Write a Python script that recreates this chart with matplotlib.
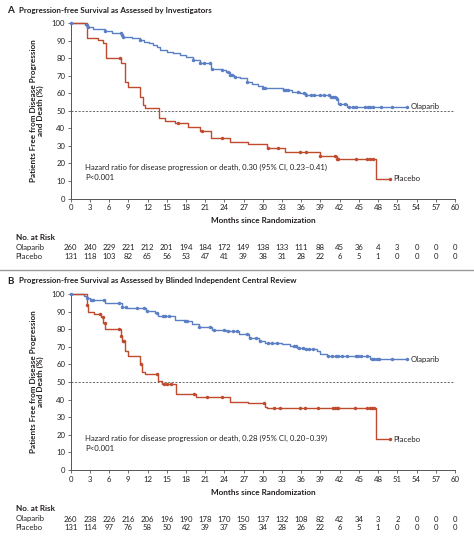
import numpy as np
import matplotlib
matplotlib.use("Agg")
import matplotlib.pyplot as plt
from matplotlib.lines import Line2D
from matplotlib.transforms import blended_transform_factory

plt.rcParams["font.family"] = ["Lato", "DejaVu Sans"]

BLUE = "#5b7fc4"
RED = "#bf4a2d"
TEXT = "#231f20"
AXIS = "#555555"

W, H = 474, 543

months = list(range(0, 61, 3))

# ── Panel A: investigator assessment ─────────────────────────────────────────
a_ola_t = [0, 2.2, 2.6, 3.5, 4.5, 5.35, 6.5, 7.95, 8.2, 9.5, 10.8, 11.5, 12.2, 12.9, 13.5,
           13.9, 15.0, 16.0, 17.0, 18.0, 19.1, 20.2, 21.98, 23.6, 24.3, 24.9, 25.5, 26.4,
           27.5, 28.3, 29.2, 30.1, 33.2, 34.5, 35.8, 36.8, 40.5, 41.5, 41.8, 43.1, 52.5]
a_ola_s = [100, 99.2, 97.8, 97.0, 96.5, 95.8, 94.5, 93.3, 92.2, 91.5, 90.5, 89.5, 88.5,
           87.6, 86.2, 84.7, 83.8, 82.8, 81.8, 80.5, 79.0, 77.4, 74.2, 73.3, 72.0, 70.4,
           69.5, 68.6, 66.7, 65.5, 64.3, 62.9, 62.0, 61.0, 60.0, 59.0, 58.1, 56.6, 54.0,
           52.4, 52.4]
a_ola_cens = [0, 2.5, 2.7, 5.4, 7.8, 8.0, 8.2, 10.8, 19.1, 20.2, 20.8, 21.7, 22.0, 23.6,
              24.6, 24.9, 25.2, 25.6, 27.5, 30.1, 30.3, 33.3, 33.6, 34.0, 35.5, 36.5,
              36.8, 37.5, 38.0, 39.0, 39.5, 40.3, 40.7, 41.0, 41.3, 41.6, 42.0, 42.8,
              43.4, 44.0, 44.6, 46.0, 46.4, 46.8, 47.2, 48.5, 50.2, 52.5]

a_pla_t = [0, 2.5, 4.3, 5.1, 5.5, 7.85, 8.4, 9.0, 10.8, 11.3, 11.6, 13.8, 14.7, 16.3,
           18.3, 20.2, 21.9, 24.9, 27.7, 30.6, 33.4, 38.9, 41.5, 47.7, 49.9]
a_pla_s = [100, 91.8, 90.5, 88.5, 80.3, 77.1, 66.7, 63.6, 58.0, 53.3, 51.4, 45.7, 44.2, 42.9,
           41.0, 38.5, 34.3, 32.4, 31.0, 28.6, 26.7, 24.4, 22.7, 11.4, 11.4]
a_pla_cens = [7.7, 16.8, 20.5, 23.6, 30.8, 32.3, 35.8, 36.7, 39.0, 41.2, 41.5, 41.7,
              44.5, 46.3, 46.8, 47.2, 49.9]

a_risk_ola = [260, 240, 229, 221, 212, 201, 194, 184, 172, 149, 138, 133, 111, 88, 45, 36, 4, 3, 0, 0, 0]
a_risk_pla = [131, 118, 103, 82, 65, 56, 53, 47, 41, 39, 38, 31, 28, 22, 6, 5, 1, 0, 0, 0, 0]

# ── Panel B: blinded independent central review ──────────────────────────────
b_ola_t = [0, 2.0, 2.5, 3.0, 5.35, 7.95, 8.7, 11.7, 13.1, 13.7, 16.3, 17.8, 18.9, 20.0,
           22.0, 24.2, 26.3, 27.8, 29.4, 30.4, 33.0, 34.2, 35.3, 36.4, 38.4, 39.0, 40.0,
           46.8, 48.2, 52.5]
b_ola_s = [100, 98.8, 97.6, 96.6, 94.9, 92.4, 92.0, 90.5, 89.2, 87.3, 85.4, 84.8, 82.9, 81.1,
           79.7, 78.8, 77.3, 75.0, 73.1, 72.2, 71.5, 70.2, 69.3, 68.7, 67.4, 65.8, 65.0,
           63.3, 62.9, 62.9]
b_ola_cens = [0, 2.5, 3.1, 3.5, 5.2, 7.5, 8.0, 8.6, 10.4, 11.4, 11.9, 13.5, 14.4, 14.8,
              15.3, 17.9, 18.2, 20.0, 21.7, 22.4, 24.0, 24.6, 25.3, 26.0, 27.5, 28.0,
              29.0, 29.5, 30.8, 31.5, 32.2, 34.8, 35.2, 35.6, 36.3, 36.7, 37.2, 37.8,
              40.2, 40.8, 41.4, 41.8, 42.3, 43.2, 44.5, 44.9, 45.3, 46.2, 47.0, 47.4,
              47.8, 48.2, 50.2, 52.5]

b_pla_t = [0, 2.5, 2.65, 3.7, 4.7, 5.1, 5.35, 7.85, 8.0, 8.4, 9.0, 10.8, 11.2, 11.6, 13.7,
           14.2, 16.4, 19.6, 24.9, 27.7, 30.3, 30.6, 47.7, 49.9]
b_pla_s = [100, 93.8, 90.0, 88.5, 86.7, 83.5, 80.2, 76.0, 73.1, 67.6, 65.0, 60.2, 55.9, 54.5,
           50.6, 49.1, 43.0, 41.7, 38.8, 37.9, 36.0, 35.1, 17.4, 17.4]
b_pla_cens = [2.6, 4.5, 5.0, 5.3, 7.6, 7.9, 8.1, 8.3, 11.0, 13.5, 14.5, 15.0, 15.6, 19.3,
              21.3, 23.6, 30.2, 31.7, 32.7, 35.8, 36.6, 38.6, 41.0, 41.3, 41.6, 41.8,
              44.4, 46.2, 46.7, 47.0, 47.3, 49.9]

b_risk_ola = [260, 238, 226, 216, 206, 196, 190, 178, 170, 150, 137, 132, 108, 82, 42, 34, 3, 2, 0, 0, 0]
b_risk_pla = [131, 114, 97, 76, 58, 50, 42, 39, 37, 35, 34, 28, 26, 22, 6, 5, 1, 0, 0, 0, 0]

FS = 5.6


def step_value(ts, ss, x):
    idx = np.searchsorted(ts, x, side="right") - 1
    return np.asarray(ss)[np.clip(idx, 0, len(ss) - 1)]


def draw_panel(fig, top_px, bottom_px, letter, title, ola, pla, hr_text, risk_ola, risk_pla):
    left_px, right_px = 70.7, 455.0
    ax = fig.add_axes([left_px / W, 1 - bottom_px / H,
                       (right_px - left_px) / W, (bottom_px - top_px) / H])
    ax_h = bottom_px - top_px

    for (ts, ss, cens), color in ((ola, BLUE), (pla, RED)):
        ax.step(ts, ss, where="post", color=color, lw=1.0, clip_on=False, zorder=3)
        ax.plot(cens, step_value(ts, ss, cens), "o", ms=2.5, color=color,
                mew=0, clip_on=False, zorder=4)

    ax.axhline(50, color=AXIS, lw=0.6, ls=(0, (2.5, 1.8)), zorder=1)

    ax.set_xlim(0, 60)
    ax.set_ylim(0, 100)
    ax.set_xticks(months)
    ax.set_yticks(range(0, 101, 10))
    for s in ("top", "right"):
        ax.spines[s].set_visible(False)
    for s in ("left", "bottom"):
        ax.spines[s].set_color(AXIS)
        ax.spines[s].set_linewidth(0.7)
    ax.tick_params(colors=AXIS, labelcolor=TEXT, labelsize=FS, length=2.5,
                   width=0.6, pad=1.5)

    ax.set_xlabel("Months since Randomization", fontsize=FS + 0.3, fontweight="bold",
                  color=TEXT, labelpad=4.5)
    fig.text(37 / W, 1 - (top_px + bottom_px) / 2 / H,
             "Patients Free from Disease Progression\nand Death (%)",
             rotation=90, ha="center", va="center", fontsize=FS + 0.3,
             fontweight="bold", color=TEXT, linespacing=1.1)

    # panel title
    fig.text(7 / W, 1 - (top_px - 13) / H, letter, fontsize=FS + 1.5,
             fontweight="bold", color=TEXT, va="center")
    fig.text(19 / W, 1 - (top_px - 13) / H, title, fontsize=FS + 0.2,
             fontweight="bold", color=TEXT, va="center")

    # curve labels
    ax.text(ola[0][-1] + 0.6, ola[1][-1], "Olaparib", fontsize=FS, color=TEXT,
            va="center", ha="left", clip_on=False)
    ax.text(pla[0][-1] + 0.5, pla[1][-1], "Placebo", fontsize=FS, color=TEXT,
            va="center", ha="left", clip_on=False)

    ax.text(2.2, 15, hr_text + "\nP<0.001", fontsize=FS, color=TEXT,
            va="center", ha="left", linespacing=1.45)

    # number at risk
    tr = blended_transform_factory(ax.transData, ax.transAxes)
    ax.text(-0.143, -38.5 / ax_h, "No. at Risk", transform=ax.transAxes,
            fontsize=FS + 0.3, fontweight="bold", color=TEXT, va="center", ha="left")
    for row_y, name, vals in ((-49 / ax_h, "Olaparib", risk_ola),
                              (-58 / ax_h, "Placebo", risk_pla)):
        ax.text(-0.143, row_y, name, transform=ax.transAxes, fontsize=FS,
                color=TEXT, va="center", ha="left")
        for m, v in zip(months, vals):
            ax.text(m, row_y, str(v), transform=tr, fontsize=FS, color=TEXT,
                    va="center", ha="center")
    return ax


fig = plt.figure(figsize=(W / 100, H / 100), dpi=100)
fig.patch.set_facecolor("white")

draw_panel(fig, 23.3, 198.5, "A", "Progression-free Survival as Assessed by Investigators",
           (a_ola_t, a_ola_s, a_ola_cens), (a_pla_t, a_pla_s, a_pla_cens),
           "Hazard ratio for disease progression or death, 0.30 (95% CI, 0.23\u20130.41)",
           a_risk_ola, a_risk_pla)
draw_panel(fig, 294.0, 470.0, "B",
           "Progression-free Survival as Assessed by Blinded Independent Central Review",
           (b_ola_t, b_ola_s, b_ola_cens), (b_pla_t, b_pla_s, b_pla_cens),
           "Hazard ratio for disease progression or death, 0.28 (95% CI, 0.20\u20130.39)",
           b_risk_ola, b_risk_pla)

fig.add_artist(Line2D([0, 1], [1 - 270 / H] * 2, color="#9a9a9a", lw=1.0))

fig.savefig("out.png", dpi=100)
